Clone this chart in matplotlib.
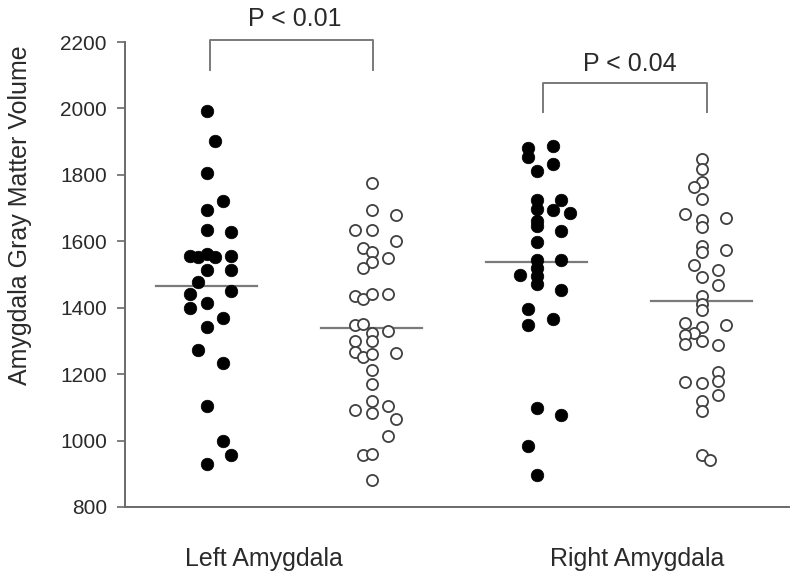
import matplotlib
matplotlib.use("Agg")
import matplotlib.pyplot as plt
import numpy as np

plt.rcParams['font.family'] = ['Liberation Sans', 'DejaVu Sans']

# ---- data ----
group_names = ["Left Amygdala", "Right Amygdala"]
y_ticks = [800, 1000, 1200, 1400, 1600, 1800, 2000, 2200]
p_labels = ["P < 0.01", "P < 0.04"]

left_filled = [1992, 1902, 1805, 1722, 1694, 1634, 1627, 1557, 1552, 1562, 1552, 1557,
               1514, 1514, 1477, 1442, 1450, 1399, 1415, 1368, 1341, 1274, 1233, 1103,
               998, 958, 928]
left_open = [1774, 1694, 1679, 1634, 1634, 1602, 1579, 1569, 1539, 1550, 1519,
             1434, 1427, 1442, 1442, 1347, 1350, 1325, 1330, 1299, 1299, 1266, 1253,
             1262, 1265, 1213, 1171, 1119, 1093, 1083, 1103, 1066, 1013, 956, 961, 881]
right_filled = [1882, 1854, 1887, 1834, 1812, 1724, 1724, 1697, 1695, 1684, 1662, 1647,
                1632, 1599, 1544, 1544, 1519, 1497, 1494, 1472, 1452, 1397, 1367, 1348,
                1098, 1076, 983, 896]
right_open = [1847, 1817, 1777, 1762, 1727, 1682, 1669, 1664, 1644, 1587, 1574, 1567,
              1530, 1514, 1492, 1469, 1434, 1412, 1394, 1354, 1341, 1348, 1324, 1317,
              1299, 1292, 1289, 1206, 1179, 1176, 1173, 1136, 1119, 1089, 956, 943]

# ---- layout (horizontal swarm columns, not data) ----
lf_cols = [0, 1, 0, 2, 0, 0, 3, -2, -1, 0, 1, 3, 0, 3, -1, -2, 3, -2, 0, 2, 0, -1, 2, 0, 2, 3, 0]
lo_cols = [0, 0, 3, -2, 0, 3, -1, 0, 0, 2, -1,
           -2, -1, 0, 2, -2, -1, 0, 2, -2, 0, -2, -1,
           0, 3, 0, 0, 0, -2, 0, 2, 3, 2, -1, 0, 0]
rf_cols = [-1, -1, 2, 2, 0, 0, 3, 0, 2, 4, 0, 0, 3, 0, 0, 3, 0, -2, 0, 0, 3, -1, 2, -1,
           0, 3, -1, 0]
ro_cols = [0, 0, 0, -1, 0, -2, 3, 0, 0, 0, 3, 0, -1, 2, 0, 2, 0, 0, 0, -2, 0, 3, -1, -2,
           0, -2, 2, 2, 2, -2, 0, 2, 0, 0, 0, 1]

positions = [1, 2, 3, 4]
col_w = 0.0497
half_line = 0.305

W, H = 793, 583
fig = plt.figure(figsize=(W / 100, H / 100), dpi=100)
ax = fig.add_axes([125 / W, (H - 507) / H, (789 - 125) / W, (507 - 42) / H])

txt = '#2a2a2a'
axc = '#6a6a6a'

groups = [(left_filled, lf_cols, True), (left_open, lo_cols, False),
          (right_filled, rf_cols, True), (right_open, ro_cols, False)]
for pos, (vals, cols, filled) in zip(positions, groups):
    x = pos + np.array(cols) * col_w
    y = np.array(vals)
    if filled:
        ax.scatter(x, y, s=82, c='black', edgecolors='black', linewidths=0.5, zorder=3)
    else:
        ax.scatter(x, y, s=64, facecolors='white', edgecolors='#404040', linewidths=1.3, zorder=3)
    m = y.mean()
    ax.plot([pos - half_line, pos + half_line], [m, m], color='#7a7a7a', lw=1.6, zorder=2)

ax.set_xlim(0.505, 4.529)
ax.set_ylim(800, 2200)
ax.set_yticks(y_ticks)
ax.set_yticklabels([str(t) for t in y_ticks])
ax.tick_params(axis='y', direction='out', length=6, width=1.2, color=axc,
               labelsize=15, labelcolor=txt, pad=7)
ax.set_xticks([1.344, 3.606])
ax.set_xticklabels(group_names)
ax.tick_params(axis='x', length=0, labelsize=18, labelcolor=txt, pad=29)

for s in ['top', 'right']:
    ax.spines[s].set_visible(False)
for s in ['left', 'bottom']:
    ax.spines[s].set_color(axc)
    ax.spines[s].set_linewidth(1.4)

ax.set_ylabel("Amygdala Gray Matter Volume", fontsize=18, color=txt)
ax.yaxis.set_label_coords(-0.14, 0.628)

# significance brackets
brackets = [((1.020, 2.010), 2206, 2116, 1.535, 2269),
            ((3.040, 4.034), 2076, 1990, 3.565, 2134)]
for (x0, x1), ytop, ybot, tx, ty in brackets:
    ax.plot([x0, x0, x1, x1], [ybot, ytop, ytop, ybot], color='#7a7a7a', lw=1.4,
            clip_on=False, zorder=2)
for (b, lab) in zip(brackets, p_labels):
    ax.text(b[3], b[4], lab, ha='center', va='center', fontsize=18, color=txt, clip_on=False)

fig.savefig("out.png", dpi=100)
